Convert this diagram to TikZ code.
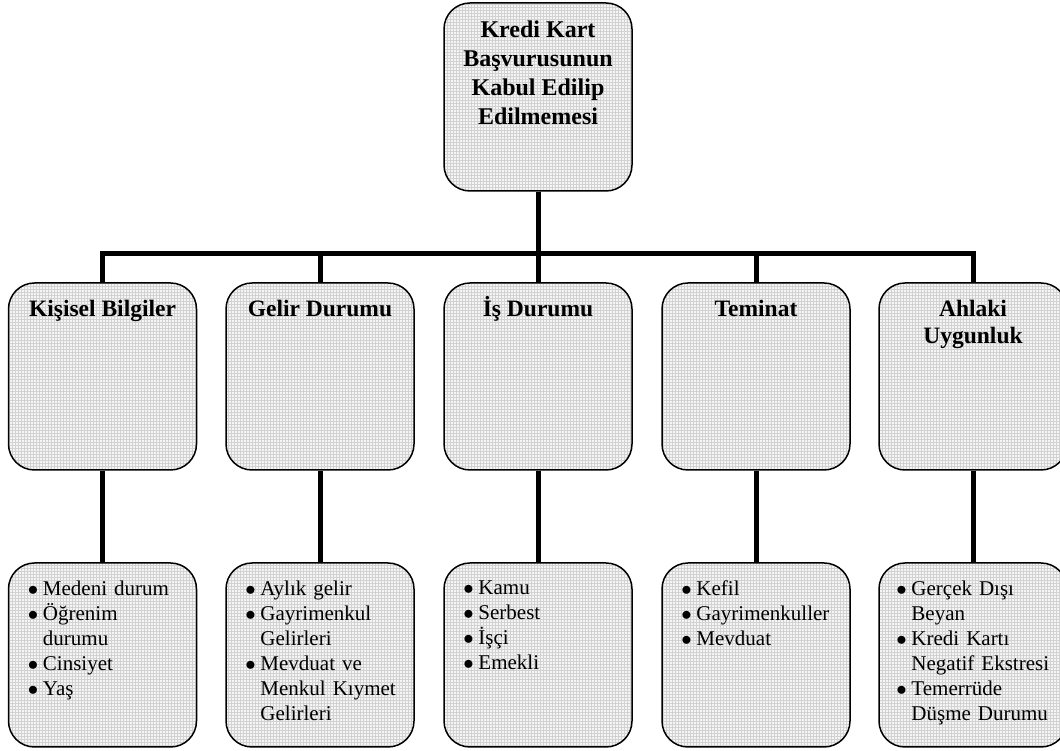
\documentclass[tikz,border=0pt]{standalone}
\usepackage{fontspec}
\setmainfont{Liberation Serif}
\usepackage{tikz}
\usetikzlibrary{positioning,patterns}

\tikzset{
	kutu/.style={draw, line width=1.5pt, rounded corners=26pt, inner sep=0pt,
		minimum width=188pt, preaction={fill=gray!8}, pattern=grid, pattern color=gray!35},
	baglanti/.style={line width=5pt},
	baslik/.style={inner sep=0pt, align=center, font=\bfseries\fontsize{23.5}{27}\selectfont},
	liste/.style={inner sep=0pt, text width=165pt, align=left, font=\fontsize{21}{25}\selectfont}
}

% one bullet line of a list, later lines hang under the text
\newcommand{\madde}[1]{\noindent\hangindent=15pt\hangafter=1\makebox[15pt][l]{$\bullet$}#1\par}

\begin{document}
\begin{tikzpicture} [x=1pt, y=1pt]

		\useasboundingbox (0,0) rectangle (1060,751);
		\clip (0,0) rectangle (1060,751);

		% top box
		\node[kutu, minimum height=188pt] (kredi) at (538,654) {};
		\node[baslik, font=\bfseries\fontsize{24}{29}\selectfont, below=18pt of kredi.north] (krediY)%
		{Kredi Kart\\Başvurusunun\\Kabul Edilip\\Edilmemesi};

		% middle row
		\node[kutu, minimum height=187pt] (kisisel) at (102.5,374.5) {};
		\node[kutu, minimum height=187pt] (gelir) at (320,374.5) {};
		\node[kutu, minimum height=187pt] (is) at (538,374.5) {};
		\node[kutu, minimum height=187pt] (teminat) at (756,374.5) {};
		\node[kutu, minimum height=187pt] (ahlaki) at (973,374.5) {};

		\node[baslik, below=34pt of kisisel.north, anchor=base] (kisiselY) {Kişisel Bilgiler};
		\node[baslik, below=34pt of gelir.north, anchor=base] (gelirY) {Gelir Durumu};
		\node[baslik, below=34pt of is.north, anchor=base] (isY) {İş Durumu};
		\node[baslik, below=34pt of teminat.north, anchor=base] (teminatY) {Teminat};
		\node[baslik, below=18pt of ahlaki.north] (ahlakiY) {Ahlaki\\Uygunluk};

		% bottom row
		\node[kutu, minimum height=184pt] (kisiselA) at (102.5,96) {};
		\node[kutu, minimum height=184pt] (gelirA) at (320,96) {};
		\node[kutu, minimum height=184pt] (isA) at (538,96) {};
		\node[kutu, minimum height=184pt] (teminatA) at (756,96) {};
		\node[kutu, minimum height=184pt] (ahlakiA) at (973,96) {};

		\node[liste, below right=18pt and 20pt of kisiselA.north west] (kisiselL)%
		{\madde{Medeni durum}\madde{Öğrenim\newline durumu}\madde{Cinsiyet}\madde{Yaş}};
		\node[liste, below right=18pt and 20pt of gelirA.north west] (gelirL)%
		{\madde{Aylık gelir}\madde{Gayrimenkul\newline Gelirleri}\madde{Mevduat ve\newline Menkul Kıymet\newline Gelirleri}};
		\node[liste, below right=18pt and 20pt of isA.north west] (isL)%
		{\madde{Kamu}\madde{Serbest}\madde{İşçi}\madde{Emekli}};
		\node[liste, below right=18pt and 20pt of teminatA.north west] (teminatL)%
		{\madde{Kefil}\madde{Gayrimenkuller}\madde{Mevduat}};
		\node[liste, below right=18pt and 18pt of ahlakiA.north west] (ahlakiL)%
		{\madde{Gerçek Dışı\newline Beyan}\madde{Kredi Kartı\newline Negatif Ekstresi}\madde{Temerrüde\newline Düşme Durumu}};

		% connectors
		\draw [baglanti] (kredi.south) -- ++(0,-62) -| (kisisel.north);
		\draw [baglanti] (kredi.south) -- ++(0,-62) -| (gelir.north);
		\draw [baglanti] (kredi.south) -- (is.north);
		\draw [baglanti] (kredi.south) -- ++(0,-62) -| (teminat.north);
		\draw [baglanti] (kredi.south) -- ++(0,-62) -| (ahlaki.north);

		\draw [baglanti] (kisisel.south) -- (kisiselA.north);
		\draw [baglanti] (gelir.south) -- (gelirA.north);
		\draw [baglanti] (is.south) -- (isA.north);
		\draw [baglanti] (teminat.south) -- (teminatA.north);
		\draw [baglanti] (ahlaki.south) -- (ahlakiA.north);
	\end{tikzpicture}
\end{document}
